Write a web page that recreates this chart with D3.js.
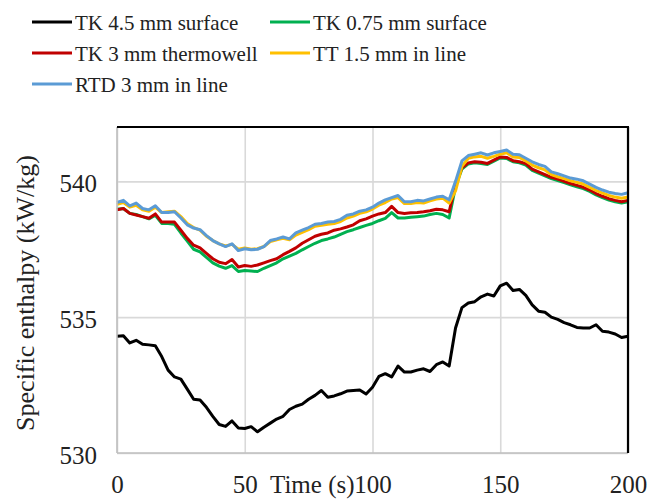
<!DOCTYPE html>
<html>
<head>
<meta charset="utf-8">
<script src="https://cdn.jsdelivr.net/npm/d3@7"></script>
<style>
body { margin: 0; background: #fff; }
</style>
</head>
<body>
<div id="chart"></div>
<script>
// sample times (s)
var times = [0, 2.5, 5, 7.5, 10, 12.5, 15, 17.5, 20, 22.5, 25, 27.5, 30, 32.5, 35, 37.5, 40, 42.5, 45, 47.5,
  50, 52.5, 55, 57.5, 60, 62.5, 65, 67.5, 70, 72.5, 75, 77.5, 80, 82.5, 85, 87.5, 90, 92.5, 95, 97.5,
  100, 102.5, 105, 107.5, 110, 112.5, 115, 117.5, 120, 122.5, 125, 127.5, 130, 132.5, 135, 137.5, 140, 142.5, 145, 147.5,
  150, 152.5, 155, 157.5, 160, 162.5, 165, 167.5, 170, 172.5, 175, 177.5, 180, 182.5, 185, 187.5, 190, 192.5, 195, 197.5, 200];

// specific enthalpy (kW/kg)
var tk45 = [534.3, 534.32, 534.05, 534.15, 534.0, 533.98, 533.95, 533.55, 533.05, 532.8, 532.72, 532.35, 531.98, 531.95, 531.68, 531.35, 531.05, 530.98, 531.18, 530.92,
  530.9, 530.97, 530.78, 530.95, 531.1, 531.25, 531.35, 531.6, 531.72, 531.8, 531.98, 532.12, 532.3, 532.05, 532.1, 532.18, 532.28, 532.3, 532.32, 532.17,
  532.42, 532.82, 532.92, 532.8, 533.2, 532.98, 532.98, 533.05, 533.1, 533.0, 533.25, 533.35, 533.2, 534.6, 535.35, 535.52, 535.57, 535.75, 535.85, 535.78,
  536.15, 536.25, 535.98, 536.02, 535.8, 535.45, 535.22, 535.18, 535.0, 534.92, 534.8, 534.72, 534.62, 534.6, 534.6, 534.72, 534.48, 534.45, 534.38, 534.25, 534.3];

var tk075 = [538.97, 539.0, 538.82, 538.78, 538.7, 538.62, 538.75, 538.45, 538.45, 538.42, 538.1, 537.8, 537.5, 537.4, 537.2, 537.0, 536.88, 536.8, 536.9, 536.68,
  536.72, 536.7, 536.68, 536.8, 536.9, 537.0, 537.15, 537.25, 537.35, 537.48, 537.6, 537.72, 537.82, 537.88, 537.95, 538.05, 538.15, 538.22, 538.3, 538.38,
  538.45, 538.55, 538.64, 538.85, 538.65, 538.65, 538.68, 538.7, 538.72, 538.78, 538.82, 538.78, 538.65, 539.8, 540.45, 540.64, 540.68, 540.66, 540.62, 540.74,
  540.86, 540.84, 540.72, 540.68, 540.6, 540.4, 540.3, 540.2, 540.1, 540.03, 539.95, 539.87, 539.8, 539.73, 539.63, 539.5, 539.4, 539.31, 539.25, 539.2, 539.25];

var tk3 = [538.95, 539.0, 538.82, 538.76, 538.7, 538.64, 538.8, 538.5, 538.5, 538.5, 538.2, 537.9, 537.65, 537.55, 537.35, 537.15, 537.02, 536.97, 537.12, 536.85,
  536.9, 536.87, 536.92, 537.0, 537.08, 537.15, 537.3, 537.42, 537.55, 537.72, 537.85, 537.98, 538.05, 538.1, 538.2, 538.25, 538.32, 538.4, 538.55, 538.62,
  538.72, 538.8, 538.85, 539.08, 538.85, 538.82, 538.84, 538.85, 538.88, 538.92, 538.97, 538.95, 538.88, 539.9, 540.5, 540.68, 540.72, 540.7, 540.66, 540.78,
  540.9, 540.88, 540.76, 540.72, 540.65, 540.45, 540.35, 540.25, 540.15, 540.08, 540.0, 539.92, 539.85, 539.78, 539.68, 539.55, 539.45, 539.36, 539.3, 539.25, 539.3];

var tt15 = [539.15, 539.22, 539.05, 539.12, 538.95, 538.9, 539.05, 538.85, 538.88, 538.9, 538.7, 538.45, 538.3, 538.2, 537.98, 537.82, 537.7, 537.62, 537.68, 537.5,
  537.55, 537.5, 537.52, 537.6, 537.78, 537.85, 537.9, 537.85, 538.02, 538.12, 538.22, 538.35, 538.38, 538.42, 538.45, 538.52, 538.65, 538.72, 538.82, 538.88,
  538.98, 539.12, 539.22, 539.35, 539.4, 539.18, 539.18, 539.22, 539.2, 539.28, 539.35, 539.38, 539.2, 539.65, 540.55, 540.85, 540.9, 540.92, 540.85, 540.92,
  541.0, 541.05, 540.9, 540.88, 540.75, 540.6, 540.5, 540.42, 540.25, 540.17, 540.1, 540.02, 539.96, 539.9, 539.78, 539.67, 539.57, 539.48, 539.42, 539.38, 539.42];

var rtd = [539.22, 539.3, 539.1, 539.2, 539.0, 538.95, 539.1, 538.85, 538.85, 538.88, 538.65, 538.4, 538.28, 538.22, 538.0, 537.82, 537.7, 537.6, 537.7, 537.45,
  537.52, 537.48, 537.5, 537.6, 537.82, 537.88, 537.95, 537.88, 538.1, 538.2, 538.3, 538.42, 538.45, 538.5, 538.52, 538.6, 538.75, 538.8, 538.9, 538.95,
  539.05, 539.2, 539.32, 539.4, 539.48, 539.25, 539.25, 539.3, 539.28, 539.35, 539.42, 539.45, 539.32, 540.0, 540.75, 540.95, 541.0, 541.05, 540.97, 541.05,
  541.1, 541.15, 541.0, 540.98, 540.85, 540.72, 540.62, 540.55, 540.35, 540.28, 540.2, 540.12, 540.08, 540.02, 539.9, 539.78, 539.68, 539.6, 539.55, 539.52, 539.58];

var seriesNames = ["TK 4.5 mm surface", "TK 0.75 mm surface", "TK 3 mm thermowell", "TT 1.5 mm in line", "RTD 3 mm in line"];
var seriesValues = [tk45, tk075, tk3, tt15, rtd];
var seriesColors = ["#000000", "#00b050", "#c00000", "#ffc000", "#5b9bd5"];

var xTicks = [0, 50, 100, 150, 200];
var yTicks = [530, 535, 540];

var W = 664, H = 500;
var margin = {top: 127, right: 36, bottom: 47, left: 117};
var w = W - margin.left - margin.right, h = H - margin.top - margin.bottom;

var svg = d3.select("#chart").append("svg")
  .attr("width", W)
  .attr("height", H);

var g = svg.append("g")
  .attr("transform", "translate(" + margin.left + "," + margin.top + ")");

var x = d3.scaleLinear().domain([0, 200]).range([0, w]);
var y = d3.scaleLinear().domain([530, 542]).range([h, 0]);

// grid
g.append("g")
  .attr("class", "grid")
  .call(d3.axisLeft(y).tickValues(yTicks).tickSize(-w).tickFormat(""))
  .call(s => s.select(".domain").remove())
  .selectAll("line").attr("stroke", "#d9d9d9").attr("stroke-width", 1.6);
g.append("g")
  .attr("class", "grid")
  .attr("transform", "translate(0," + h + ")")
  .call(d3.axisBottom(x).tickValues(xTicks).tickSize(-h).tickFormat(""))
  .call(s => s.select(".domain").remove())
  .selectAll("line").attr("stroke", "#d9d9d9").attr("stroke-width", 1.6);

// tick labels
var yAxis = g.append("g")
  .call(d3.axisLeft(y).tickValues(yTicks).tickSize(0).tickPadding(20));
yAxis.attr("font-family", null).attr("font-size", null);
yAxis.select(".domain").remove();
yAxis.selectAll("text")
  .attr("dy", "0.42em")
  .attr("fill", "#222")
  .attr("font-size", 25)
  .style("font-family", "Liberation Serif");

var xAxis = g.append("g")
  .attr("transform", "translate(0," + h + ")")
  .call(d3.axisBottom(x).tickValues(xTicks).tickSize(0).tickPadding(22));
xAxis.attr("font-family", null).attr("font-size", null);
xAxis.select(".domain").remove();
xAxis.selectAll("text")
  .attr("fill", "#222")
  .attr("font-size", 25)
  .style("font-family", "Liberation Serif");

// lines
var line = d3.line()
  .x((d, i) => x(times[i]))
  .y(d => y(d));

g.selectAll("path.series")
  .data(seriesValues)
  .enter().append("path")
  .attr("class", "series")
  .attr("d", line)
  .attr("fill", "none")
  .attr("stroke", (d, i) => seriesColors[i])
  .attr("stroke-width", 3)
  .attr("stroke-linejoin", "round");

// frame: grey left/bottom, black top/right
g.append("line").attr("x1", 0).attr("x2", 0).attr("y1", 0).attr("y2", h)
  .attr("stroke", "#bfbfbf").attr("stroke-width", 1.6);
g.append("line").attr("x1", 0).attr("x2", w).attr("y1", h).attr("y2", h)
  .attr("stroke", "#bfbfbf").attr("stroke-width", 1.6);
g.append("line").attr("x1", 0).attr("x2", w + 1).attr("y1", 0).attr("y2", 0)
  .attr("stroke", "#000").attr("stroke-width", 2.2);
g.append("line").attr("x1", w).attr("x2", w).attr("y1", 0).attr("y2", h)
  .attr("stroke", "#000").attr("stroke-width", 2.2);

// axis titles
svg.append("text")
  .attr("x", 270)
  .attr("y", 493)
  .attr("fill", "#222")
  .attr("font-size", 25)
  .style("font-family", "Liberation Serif")
  .text("Time (s)");
svg.append("text")
  .attr("transform", "translate(34,293) rotate(-90)")
  .attr("text-anchor", "middle")
  .attr("fill", "#222")
  .attr("font-size", 26)
  .style("font-family", "Liberation Serif")
  .text("Specific enthalpy (kW/kg)");

// legend
var legPos = [[32, 22], [270, 22], [32, 53], [270, 53], [32, 84]];
var legend = svg.append("g");
seriesNames.forEach(function(name, i) {
  var p = legPos[i];
  legend.append("line")
    .attr("x1", p[0]).attr("x2", p[0] + 40)
    .attr("y1", p[1]).attr("y2", p[1])
    .attr("stroke", seriesColors[i])
    .attr("stroke-width", 3);
  legend.append("text")
    .attr("x", p[0] + 43)
    .attr("y", p[1] + 8)
    .attr("fill", "#222")
    .attr("font-size", 21)
    .style("font-family", "Liberation Serif")
    .text(name);
});
</script>
</body>
</html>
